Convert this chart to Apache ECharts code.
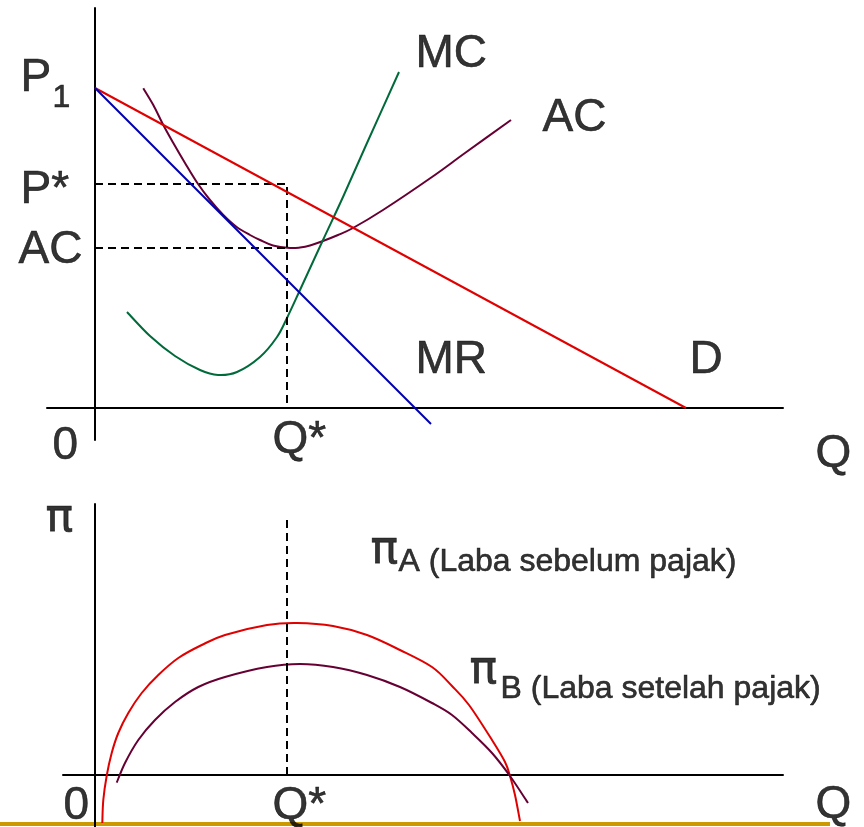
<!DOCTYPE html>
<html>
<head>
<meta charset="utf-8">
<title>Laba sebelum dan setelah pajak</title>
<script src="https://cdn.jsdelivr.net/npm/echarts@6/dist/echarts.min.js"></script>
<style>
  html, body { margin: 0; padding: 0; background: #fff; }
  #main { width: 864px; height: 827px; }
</style>
</head>
<body>
<div id="main"></div>
<script>
/* ---- data panel atas (harga / biaya), satuan bebas ---- */
const demand = [[0, 32], [59.1, 0]]
const mr = [[0, 32], [33.6, -1.6]]
const ac = [[4.83, 31.97], [5.83, 30.3], [6.83, 28.3], [7.83, 26.5], [9, 24.5], [10.17, 22.6], [11.5, 20.8],
  [12.83, 19.3], [14.17, 18.1], [15.5, 17.3], [16.5, 16.8], [17.8, 16.25], [19.5, 16], [20.5, 16.05],
  [21.5, 16.25], [22.8, 16.7], [24.3, 17.3], [25.8, 18], [28.8, 19.8], [33.7, 23.1], [37, 25.5], [41.6, 28.8]]
const mc = [[3.2, 9.6], [5.5, 7.2], [8, 5.2], [10.5, 3.8], [12.3, 3.3], [14.2, 3.6], [16.5, 5.1], [18.2, 7.1],
  [19.2, 9], [20.5, 11.8], [22.8, 16.8], [24.8, 21.1], [27.2, 26.5], [30.4, 33.6]]
const qStar = 19.2
const pStar = 22.4
const acStar = 16

/* ---- data panel bawah (laba) ---- */
const profitA = [[0.73, -4.8], [0.83, -2.5], [1.17, -0.07], [1.67, 2.2], [2.33, 4.2], [3.33, 6.2], [4.67, 8.2],
  [6.33, 10], [8.33, 11.7], [10.67, 13], [13, 14], [17.2, 15], [20.2, 15.2], [23.8, 14.9], [27.2, 14],
  [30.5, 12.5], [33.7, 10.8], [35.7, 8.9], [37.4, 7], [39.7, 3.5], [41, 1.3], [41.5, -0.1], [42, -2], [42.5, -4.6]]
const profitB = [[2.17, -0.77], [3, 1.2], [4.33, 3.5], [6, 5.5], [8, 7.3], [10.33, 8.8], [13, 9.8], [17.2, 10.8],
  [20.5, 11.1], [23.8, 10.8], [27.2, 10], [30.5, 8.8], [33.7, 7.2], [35.7, 6], [37.7, 4.2], [39.7, 2.2],
  [41.5, -0.1], [43.3, -2.8]]
const piGuideTop = 25.5

/* ---- teks label ---- */
const topTexts = ['P', '1', 'P*', 'AC', '0', 'Q*', 'Q', 'MC', 'AC', 'MR', 'D']
const bottomTexts = ['π', '0', 'Q*', 'Q', 'π', 'A (Laba sebelum pajak)', 'π', 'B (Laba setelah pajak)']

/* layout label: [x, y, ukuran huruf] dalam koordinat grid */
const BIG = 46, SMALL = 32
const topLayout = [[-7.5, 32.95, BIG], [-4.3, 31.0, SMALL], [-7.5, 21.8, BIG], [-7.7, 15.8, BIG], [-4.3, -3.8, BIG],
  [17.7, -3.2, BIG], [72, -4.6, BIG], [32, 35.35, BIG], [44.7, 29, BIG], [32, 4.8, BIG], [59.4, 4.8, BIG]]
const bottomLayout = [[-5, 25.6, BIG], [-3.2, -3.15, BIG], [17.7, -3.15, BIG], [72, -3.05, BIG],
  [27.5, 22.4, BIG], [30.3, 21.3, SMALL], [37.4, 10.4, BIG], [40.5, 8.6, SMALL]]

const FONT = '"Liberation Sans", Arial, sans-serif'
const PI_FONT = '"DejaVu Sans", sans-serif'

function axis (min, max) {
  return {
    type: 'value', min, max,
    axisLine: { onZero: true, lineStyle: { color: '#000', width: 2 } },
    axisTick: { show: false }, axisLabel: { show: false }, splitLine: { show: false }
  }
}

function straight (data, color, g) {
  return {
    type: 'line', xAxisIndex: g, yAxisIndex: g, data, symbol: 'none', silent: true,
    lineStyle: { color, width: 2 }
  }
}

/* kurva halus: titik data -> piksel lewat api.coord, lalu bezier catmull-rom */
function curve (data, color, g) {
  return {
    type: 'custom', xAxisIndex: g, yAxisIndex: g, data, silent: true, clip: true,
    renderItem: function (params, api) {
      if (params.dataIndex !== 0) return
      const p = data.map(d => api.coord(d))
      let path = 'M' + p[0][0] + ' ' + p[0][1]
      for (let i = 0; i < p.length - 1; i++) {
        const p0 = p[Math.max(i - 1, 0)], p1 = p[i], p2 = p[i + 1], p3 = p[Math.min(i + 2, p.length - 1)]
        const c1x = p1[0] + (p2[0] - p0[0]) / 6, c1y = p1[1] + (p2[1] - p0[1]) / 6
        const c2x = p2[0] - (p3[0] - p1[0]) / 6, c2y = p2[1] - (p3[1] - p1[1]) / 6
        path += ' C' + c1x + ' ' + c1y + ' ' + c2x + ' ' + c2y + ' ' + p2[0] + ' ' + p2[1]
      }
      return {
        type: 'path',
        shape: { pathData: path },
        style: { stroke: color, lineWidth: 2, fill: 'none' }
      }
    }
  }
}

function dashed (data, g) {
  return {
    type: 'line', xAxisIndex: g, yAxisIndex: g, data, symbol: 'none', silent: true,
    lineStyle: { color: '#000', width: 2, type: [8, 5] }
  }
}

function labels (texts, layout, g) {
  return {
    type: 'scatter', xAxisIndex: g, yAxisIndex: g, symbolSize: 1, clip: false, silent: true,
    itemStyle: { color: 'rgba(0,0,0,0)' },
    data: texts.map((t, i) => ({
      value: [layout[i][0], layout[i][1]],
      label: {
        formatter: t, fontSize: layout[i][2], color: '#000',
        fontFamily: t === 'π' ? PI_FONT : FONT
      }
    })),
    label: {
      show: true, position: 'right', distance: 0, align: 'left', verticalAlign: 'middle',
      color: '#000', textBorderColor: '#000', textBorderWidth: 0.6
    }
  }
}

const chart = echarts.init(document.getElementById('main'))
chart.setOption({
  backgroundColor: '#fff',
  animation: false,
  grid: [
    { left: 47, right: 81, top: 8, bottom: 387 },
    { left: 63, right: 81, top: 504, bottom: 0 }
  ],
  xAxis: [
    Object.assign(axis(-4.8, 68.8), { gridIndex: 0 }),
    Object.assign(axis(-3.2, 68.8), { gridIndex: 1 })
  ],
  yAxis: [
    Object.assign(axis(-3.2, 40), { gridIndex: 0 }),
    Object.assign(axis(-5.2, 27.1), { gridIndex: 1 })
  ],
  graphic: [
    /* garis dekorasi slide */
    { type: 'rect', z: 0, shape: { x: 0, y: 822, width: 830, height: 4 }, style: { fill: '#CC9900' } }
  ],
  series: [
    dashed([[0, pStar], [qStar, pStar], [qStar, 0]], 0),
    dashed([[0, acStar], [qStar, acStar]], 0),
    straight(demand, '#E00000', 0),
    straight(mr, '#0000B0', 0),
    curve(ac, '#660033', 0),
    curve(mc, '#006A3A', 0),
    labels(topTexts, topLayout, 0),

    dashed([[qStar, 0], [qStar, piGuideTop]], 1),
    curve(profitA, '#E00000', 1),
    curve(profitB, '#660033', 1),
    labels(bottomTexts, bottomLayout, 1)
  ]
})
</script>
</body>
</html>
